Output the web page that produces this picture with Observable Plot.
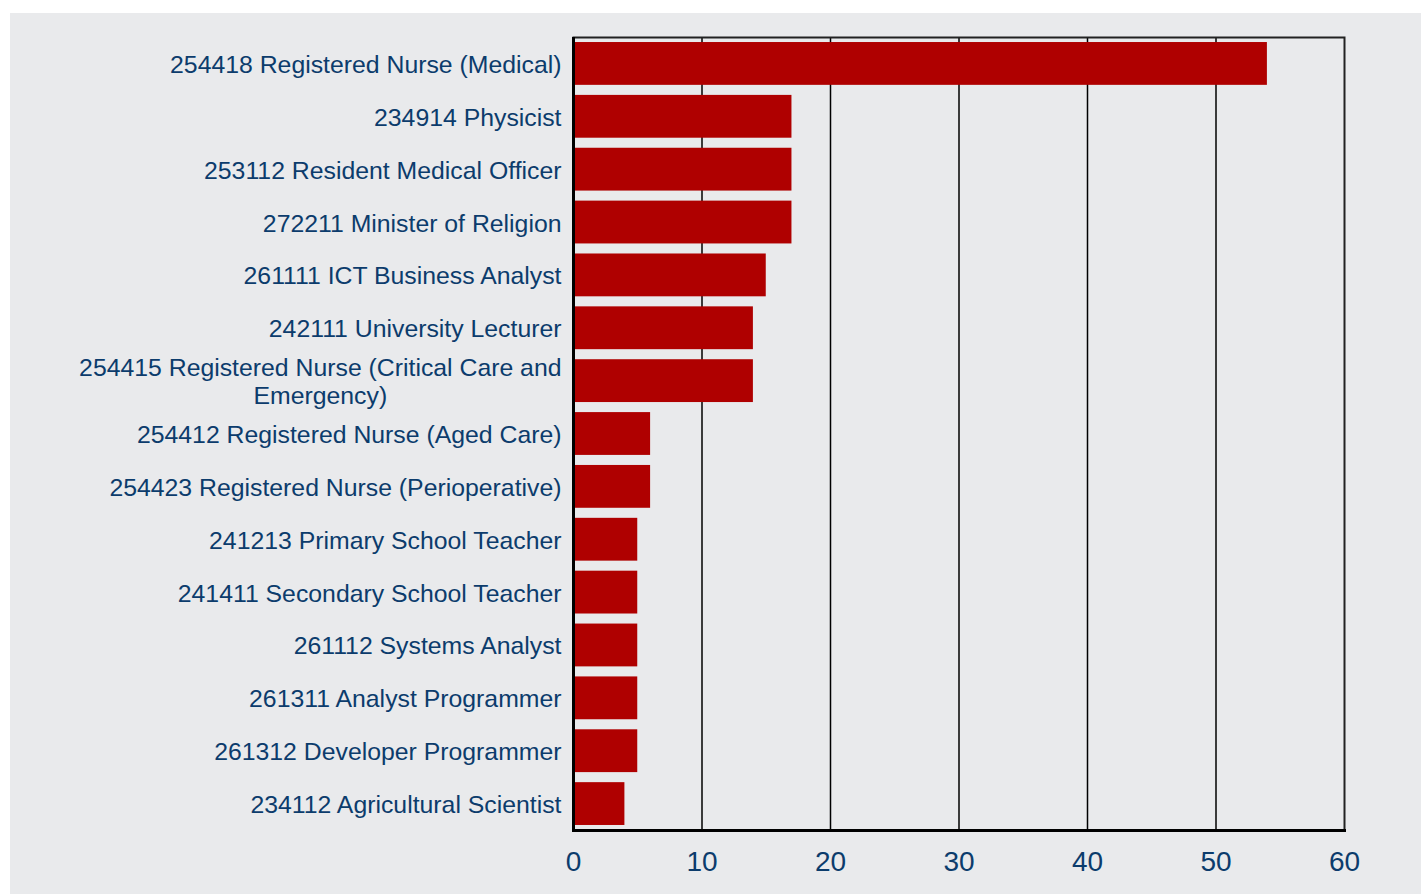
<!DOCTYPE html>
<html>
<head>
<meta charset="utf-8">
<script src="https://cdn.jsdelivr.net/npm/d3@7"></script>
<script src="https://cdn.jsdelivr.net/npm/@observablehq/plot@0.6"></script>
<style>
  html, body { margin: 0; padding: 0; background: #ffffff; }
  #panel { position: absolute; left: 10px; top: 13px; width: 1411px; height: 881px; background: #e9eaec; overflow: hidden; }
  #panel svg { display: block; }
</style>
</head>
<body>
<div id="panel"></div>
<script>
const occupations = [
  "254418 Registered Nurse (Medical)",
  "234914 Physicist",
  "253112 Resident Medical Officer",
  "272211 Minister of Religion",
  "261111 ICT Business Analyst",
  "242111 University Lecturer",
  "254415 Registered Nurse (Critical Care and\nEmergency)",
  "254412 Registered Nurse (Aged Care)",
  "254423 Registered Nurse (Perioperative)",
  "241213 Primary School Teacher",
  "241411 Secondary School Teacher",
  "261112 Systems Analyst",
  "261311 Analyst Programmer",
  "261312 Developer Programmer",
  "234112 Agricultural Scientist"
];
const counts = [54, 17, 17, 17, 15, 14, 14, 6, 6, 5, 5, 5, 5, 5, 4];
const xTicks = [0, 10, 20, 30, 40, 50, 60];
const gridTicks = [10, 20, 30, 40, 50];

const data = occupations.map((o, i) => ({occupation: o, count: counts[i]}));
const textColor = "#0c3c6c";

const chart = Plot.plot({
  width: 1411,
  height: 881,
  marginLeft: 563,
  marginRight: 77,
  marginTop: 24,
  marginBottom: 64,
  style: {background: "transparent", fontFamily: "'Liberation Sans', Arial, sans-serif", color: textColor},
  x: {domain: [0, 60], ticks: xTicks},
  y: {domain: occupations, paddingInner: 0.19, paddingOuter: 0.095, round: false},
  marks: [
    Plot.ruleX(gridTicks, {stroke: "#000", strokeWidth: 1.5}),
    Plot.barX(data, {x: "count", y: "occupation", fill: "#af0000"}),
    Plot.frame({stroke: "#222", strokeWidth: 2}),
    Plot.frame({anchor: "bottom", stroke: "#000", strokeWidth: 3}),
    Plot.ruleX([0], {stroke: "#000", strokeWidth: 3}),
    Plot.axisX({ticks: xTicks, tickSize: 0, tickPadding: 21, fontSize: 28, fill: textColor, label: null}),
    Plot.axisY({tickSize: 0, tickPadding: 12, fontSize: 24.8, lineHeight: 1.13, fill: textColor, label: null, lineWidth: 100})
  ]
});

document.getElementById("panel").appendChild(chart);

// centre the wrapped y tick label (the reference centres its two lines)
chart.querySelectorAll("g[aria-label='y-axis tick label'] text").forEach(t => {
  const spans = t.querySelectorAll("tspan");
  if (spans.length > 1) {
    const bb = t.getBBox();
    const cx = bb.x + bb.width / 2;
    t.setAttribute("text-anchor", "middle");
    spans.forEach(s => s.setAttribute("x", cx));
    const bb2 = t.getBBox();
    const shift = (bb.x + bb.width) - (bb2.x + bb2.width);
    spans.forEach(s => s.setAttribute("x", cx + shift));
  }
});
</script>
</body>
</html>
